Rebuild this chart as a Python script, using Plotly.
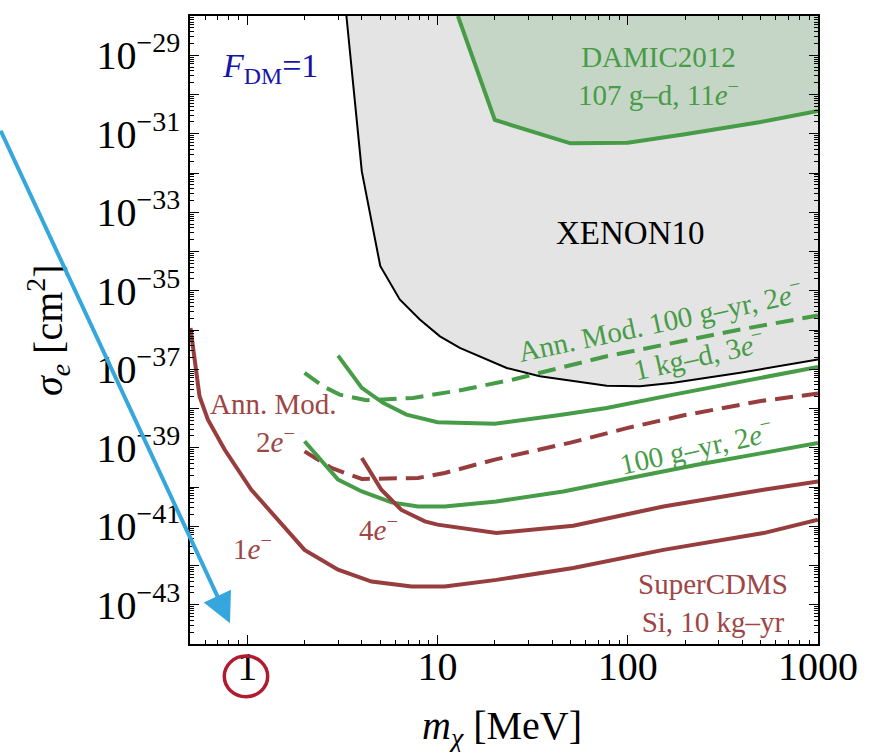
import math
import plotly.graph_objects as go

# ---------------- data ----------------
# XENON10 exclusion boundary (black line, grey region)
xenon_mass = [3.32, 4.0, 5.0, 6.33, 8.07, 10.3, 13.1, 18.1, 23.1, 34.5, 51.7, 77.5, 116, 174, 390, 1000]
xenon_sigma = [1e-28, 1.1e-32, 4.3e-35, 6.0e-36, 1.85e-36, 6.9e-37, 3.5e-37, 1.77e-37, 1.08e-37,
               6.6e-38, 4.9e-38, 3.8e-38, 3.7e-38, 4.5e-38, 8.1e-38, 1.77e-37]

# DAMIC2012 boundary (green line, green region)
damic_mass = [12.8, 20, 50, 100, 200, 500, 1000]
damic_sigma = [1e-28, 2.24e-31, 5.7e-32, 5.9e-32, 9.7e-32, 2.0e-31, 3.8e-31]

# Si, Ann. Mod. 100 g-yr, 2e- (green dashed)
amg_mass = [2, 2.5, 3.06, 4.23, 7.44, 13.6, 25, 44, 77.5, 174, 390, 1000]
amg_sigma = [8.1e-38, 3.7e-38, 2.26e-38, 1.62e-38, 1.86e-38, 3.0e-38, 5.5e-38, 1.08e-37,
             2.14e-37, 4.7e-37, 1.03e-36, 2.34e-36]

# 1 kg-d, 3e- (green solid, upper)
kgd_mass = [3, 4, 5.17, 6.87, 10, 20, 44, 77.5, 174, 390, 1000]
kgd_sigma = [2.23e-37, 3.35e-38, 1.39e-38, 7.0e-39, 4.45e-39, 4.1e-39, 6.8e-39, 1.03e-38,
             2.26e-38, 4.9e-38, 1.15e-37]

# 100 g-yr, 2e- (green solid, lower)
gyr_mass = [2, 2.35, 3, 4, 5.73, 7.9, 10.9, 20.4, 45.8, 103, 231, 517, 1000]
gyr_sigma = [1.46e-39, 6.0e-40, 1.54e-40, 7.7e-41, 4.05e-41, 3.2e-41, 3.2e-41, 4.3e-41,
             7.7e-41, 1.7e-40, 3.7e-40, 7.4e-40, 1.33e-39]

# SuperCDMS Ann. Mod. 2e- (red dashed)
amr_mass = [2, 2.77, 4, 7.9, 10.9, 20, 50, 100, 200, 500, 1000]
amr_sigma = [8.1e-40, 3.05e-40, 1.6e-40, 1.7e-40, 2.27e-40, 5.0e-40, 1.35e-39, 3.2e-39,
             6.8e-39, 1.55e-38, 2.4e-38]

# SuperCDMS 4e- (red solid, middle)
r4_mass = [4, 5.07, 6.46, 8.58, 10, 20.4, 51.7, 154, 517, 1000]
r4_sigma = [5.5e-40, 8.5e-41, 2.6e-41, 1.33e-41, 1.1e-41, 6.7e-42, 1.03e-41, 3.2e-41,
            8.5e-41, 1.39e-40]

# SuperCDMS 1e- (red solid, lowest)
r1_mass = [0.503, 0.528, 0.561, 0.621, 0.76, 1.05, 1.45, 2.0, 3.0, 4.5, 7.3, 10.9, 20.4,
           51.7, 154, 517, 1000]
r1_sigma = [1.13e-36, 1.77e-37, 2.05e-38, 5.2e-39, 9.0e-40, 8.5e-41, 1.47e-41, 2.5e-42,
            7.8e-43, 3.9e-43, 2.9e-43, 2.9e-43, 4.3e-43, 8.6e-43, 2.5e-42, 6.7e-42, 1.47e-41]

x_tick_values = [1, 10, 100, 1000]
x_tick_labels = ["1", "10", "100", "1000"]
y_exponents = list(range(-44, -27))
X_MIN, X_MAX = 0.5, 1000
Y_MIN, Y_MAX = 1e-44, 1e-28

# ---------------- styles ----------------
GREEN = "#479c47"
RED = "#973d3d"
RED_TXT = "#9e4646"
BLUE_TXT = "#1515a8"
GREY_FILL = "#e4e4e4"
GREEN_FILL = "#c6d6c6"
FONT = "Liberation Serif"
DASH = "18px,9px"

fig = go.Figure()

# XENON10 region
fig.add_trace(go.Scatter(x=xenon_mass + [X_MAX, xenon_mass[0]],
                         y=xenon_sigma + [Y_MAX, Y_MAX],
                         fill="toself", fillcolor=GREY_FILL, mode="lines",
                         line=dict(width=0), hoverinfo="skip", showlegend=False))
# DAMIC region
fig.add_trace(go.Scatter(x=damic_mass + [X_MAX, damic_mass[0]],
                         y=damic_sigma + [Y_MAX, Y_MAX],
                         fill="toself", fillcolor=GREEN_FILL, mode="lines",
                         line=dict(width=0), hoverinfo="skip", showlegend=False))
# boundaries
fig.add_trace(go.Scatter(x=xenon_mass, y=xenon_sigma, mode="lines",
                         line=dict(color="black", width=2), showlegend=False))
fig.add_trace(go.Scatter(x=damic_mass, y=damic_sigma, mode="lines",
                         line=dict(color=GREEN, width=4), showlegend=False))

fig.add_trace(go.Scatter(x=amg_mass, y=amg_sigma, mode="lines",
                         line=dict(color=GREEN, width=4, dash=DASH), showlegend=False))
fig.add_trace(go.Scatter(x=kgd_mass, y=kgd_sigma, mode="lines",
                         line=dict(color=GREEN, width=4), showlegend=False))
fig.add_trace(go.Scatter(x=amr_mass, y=amr_sigma, mode="lines",
                         line=dict(color=RED, width=4, dash=DASH), showlegend=False))
fig.add_trace(go.Scatter(x=gyr_mass, y=gyr_sigma, mode="lines",
                         line=dict(color=GREEN, width=4), showlegend=False))
fig.add_trace(go.Scatter(x=r4_mass, y=r4_sigma, mode="lines",
                         line=dict(color=RED, width=4), showlegend=False))
fig.add_trace(go.Scatter(x=r1_mass, y=r1_sigma, mode="lines",
                         line=dict(color=RED, width=4), showlegend=False))

# ---------------- axes ----------------
minor_x = [m * 10 ** k for k in range(-1, 3) for m in range(2, 10)]
minor_x = [v for v in minor_x if X_MIN <= v <= X_MAX]
minor_y = [m * 10.0 ** k for k in range(-44, -28) for m in range(2, 10)]
y_tick_values = [10.0 ** e for e in y_exponents]
y_tick_labels = [("10<sup>\u2212%d</sup>" % (-e)) if e % 2 else " " for e in y_exponents]

axis_common = dict(
    type="log", ticks="inside", tickcolor="black", tickwidth=1.3,
    showline=True, linecolor="black", linewidth=1.5, mirror="allticks",
    showgrid=False, zeroline=False, automargin=False,
    tickfont=dict(family=FONT, size=40, color="black"),
)

fig.update_xaxes(range=[math.log10(X_MIN), math.log10(X_MAX)],
                 tickmode="array", tickvals=x_tick_values, ticktext=x_tick_labels,
                 ticklen=9, ticklabelstandoff=-14,
                 minor=dict(tickmode="array", tickvals=minor_x, ticks="inside",
                            ticklen=4, tickcolor="black", tickwidth=1, showgrid=False),
                 **axis_common)
fig.update_yaxes(range=[math.log10(Y_MIN), math.log10(Y_MAX)],
                 tickmode="array", tickvals=y_tick_values, ticktext=y_tick_labels,
                 ticklen=9,
                 minor=dict(tickmode="array", tickvals=minor_y, ticks="inside",
                            ticklen=4, tickcolor="black", tickwidth=1, showgrid=False),
                 **axis_common)

# ---------------- text ----------------
def txt(text, x, y, size, color, angle=0):
    fig.add_annotation(text=text, x=x, y=y, xref="paper", yref="paper",
                       showarrow=False, textangle=angle, xanchor="center", yanchor="middle",
                       font=dict(family=FONT, size=size, color=color))

txt("<i>F</i><sub>DM</sub>=1", 0.1274, 0.9172, 34, BLUE_TXT)
txt("XENON10", 0.7006, 0.6545, 33, "black")
txt("DAMIC2012<br>107 g\u2013d, 11<i>e</i><sup>\u2212</sup>", 0.7468, 0.9045, 29, GREEN)
txt("Ann. Mod. 100 g\u2013yr, 2<i>e</i><sup>\u2212</sup>", 0.7484, 0.5159, 29, GREEN, angle=-12)
txt("1 kg\u2013d, 3<i>e</i><sup>\u2212</sup>", 0.8105, 0.4618, 29, GREEN, angle=-12.5)
txt("100 g\u2013yr, 2<i>e</i><sup>\u2212</sup>", 0.8057, 0.3153, 29, GREEN, angle=-12.5)
txt("Ann. Mod.", 0.1322, 0.3822, 29, RED_TXT)
txt("2<i>e</i><sup>\u2212</sup>", 0.1354, 0.3248, 29, RED_TXT)
txt("1<i>e</i><sup>\u2212</sup>", 0.1003, 0.1545, 29, RED_TXT)
txt("4<i>e</i><sup>\u2212</sup>", 0.2994, 0.1847, 29, RED_TXT)
txt("SuperCDMS<br>Si, 10 kg\u2013yr", 0.8328, 0.0653, 29, RED_TXT)

# axis titles
txt("<i>m</i><sub><i>\u03c7</i></sub> [MeV]", 0.497, -0.134, 40, "black")
txt("<i>\u03c3</i><sub><i>e</i></sub> [cm<sup>2</sup>]", -0.226, 0.5, 40, "black", angle=-90)

# blue arrow
fig.add_annotation(x=0.0637, y=0.033, xref="paper", yref="paper", text="",
                   showarrow=True, ax=-232, ay=-494, axref="pixel", ayref="pixel",
                   arrowhead=2, arrowsize=1.5, arrowwidth=4, arrowcolor="#35a7dd")

# red circle around the "1" tick label
fig.add_shape(type="circle", xref="paper", yref="paper",
              x0=0.0546, x1=0.1237, y0=-0.0839, y1=-0.0191,
              line=dict(color="#b01c2e", width=3.5))

fig.update_layout(width=892, height=752, autosize=False,
                  margin=dict(l=190, r=74, t=16, b=108),
                  paper_bgcolor="white", plot_bgcolor="white",
                  template="none", showlegend=False)

fig.write_html("out.html", config={"displayModeBar": False},
               post_script="document.body.style.margin='0px';document.body.style.overflow='hidden';")
